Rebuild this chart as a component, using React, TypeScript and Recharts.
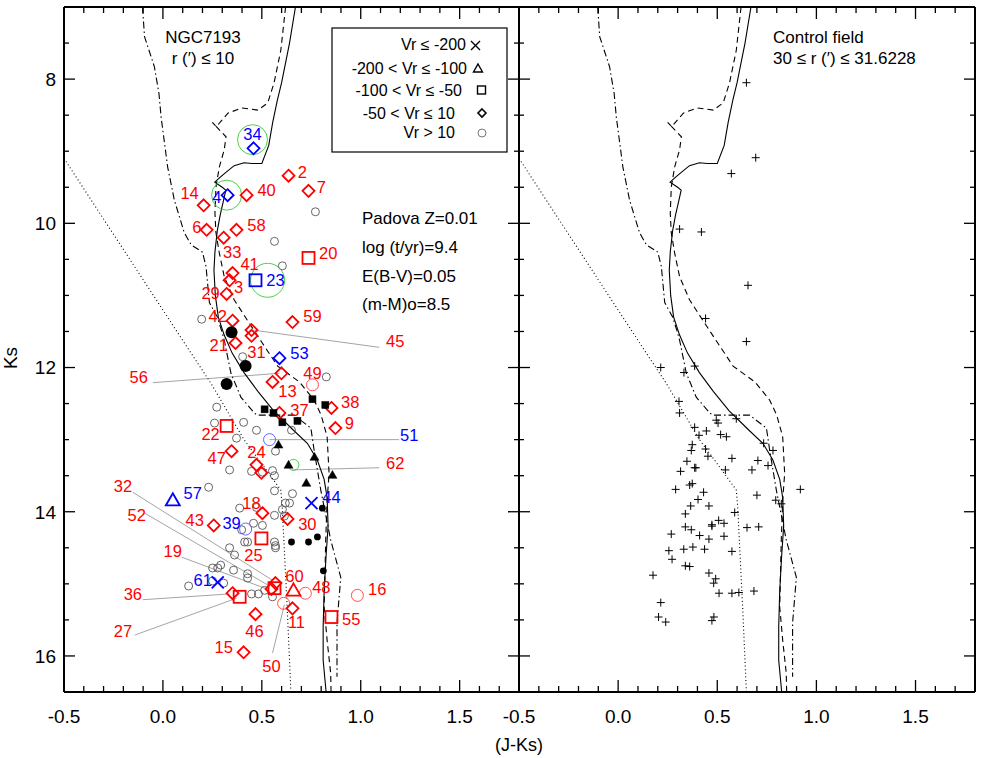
import React from 'react';
import { ScatterChart, Scatter, XAxis, YAxis, ReferenceLine } from 'recharts';

// axes
const X_TICKS = [-0.5, -0.4, -0.3, -0.2, -0.1, 0, 0.1, 0.2, 0.3, 0.4, 0.5, 0.6, 0.7, 0.8, 0.9, 1, 1.1, 1.2, 1.3, 1.4, 1.5, 1.6, 1.7];
const X_LABELS = [-0.5, 0, 0.5, 1, 1.5];
const Y_TICKS = [7.5, 8, 8.5, 9, 9.5, 10, 10.5, 11, 11.5, 12, 12.5, 13, 13.5, 14, 14.5, 15, 15.5, 16];
const Y_LABELS = [8, 10, 12, 14, 16];

// isochrones [J-Ks, Ks]
const ISO_SOLID = [
  [0.67, 7.0], [0.64, 7.5], [0.6, 8.05], [0.578, 8.3], [0.555, 8.6], [0.535, 8.92], [0.5, 9.17], [0.45, 9.17],
  [0.41, 9.16], [0.36, 9.2], [0.32, 9.29], [0.29, 9.36], [0.262, 9.43], [0.3, 9.5], [0.318, 9.54], [0.305, 9.7],
  [0.29, 9.88], [0.275, 10.1], [0.263, 10.4], [0.258, 10.65], [0.265, 11.0], [0.28, 11.3], [0.31, 11.55],
  [0.35, 11.8], [0.41, 12.07], [0.48, 12.33], [0.56, 12.6], [0.66, 12.87], [0.73, 13.05], [0.78, 13.28],
  [0.815, 13.55], [0.83, 13.8], [0.835, 14.2], [0.825, 14.6], [0.815, 15.1], [0.81, 15.6], [0.81, 16.06], [0.825, 16.5],
];
const ISO_DASHED = [
  [0.62, 7.0], [0.596, 7.6], [0.562, 8.05], [0.53, 8.33], [0.48, 8.43], [0.4, 8.4], [0.33, 8.47], [0.27, 8.66],
  [0.25, 8.6], [0.27, 8.66], [0.319, 8.8], [0.31, 8.98], [0.285, 9.22], [0.268, 9.5], [0.263, 9.86], [0.268, 10.13],
  [0.285, 10.41], [0.31, 10.74], [0.36, 11.06], [0.426, 11.34], [0.5, 11.65], [0.58, 11.98], [0.69, 12.2],
  [0.764, 12.45], [0.8, 12.66], [0.83, 12.96], [0.84, 13.47], [0.83, 13.84], [0.823, 14.39], [0.815, 15.32],
  [0.83, 15.78], [0.848, 16.24], [0.85, 16.5],
];
const ISO_DASHDOT = [
  [-0.103, 7.0], [-0.093, 7.41], [-0.043, 7.83], [-0.02, 8.2], [-0.009, 8.53], [0.024, 9.22], [0.058, 9.68],
  [0.108, 10.13], [0.143, 10.3], [0.2, 10.4], [0.218, 10.6], [0.235, 11.1], [0.275, 11.3], [0.3, 11.52],
  [0.31, 11.62], [0.344, 12.08], [0.394, 12.41], [0.462, 12.63], [0.477, 12.66], [0.663, 12.66], [0.748, 12.84],
  [0.764, 13.14], [0.798, 13.7], [0.848, 14.39], [0.899, 14.91], [0.88, 15.54], [0.88, 16.29],
];
const ISO_DOTTED = [
  [-0.5, 9.1], [0.123, 11.72], [0.243, 12.22], [0.41, 13.0], [0.512, 13.38], [0.596, 13.7], [0.603, 13.93],
  [0.628, 15.32], [0.647, 16.5],
];

// NGC7193 field
const GRAY_CIRCLES = [
  [0.771, 9.84], [0.564, 10.25], [0.604, 10.59], [0.196, 11.33], [0.403, 11.85], [0.826, 12.13], [0.272, 12.55],
  [0.261, 12.77], [0.408, 12.76], [0.473, 12.87], [0.372, 12.98], [0.569, 13.16], [0.65, 12.87], [0.337, 13.42],
  [0.448, 13.44], [0.503, 13.45], [0.554, 13.43], [0.564, 13.5], [0.231, 13.66], [0.564, 13.71], [0.655, 13.75],
  [0.619, 13.88], [0.64, 13.88], [0.604, 13.97], [0.388, 13.95], [0.473, 13.94], [0.564, 14.05], [0.614, 14.06],
  [0.458, 14.16], [0.503, 14.19], [0.398, 14.25], [0.428, 14.42], [0.413, 14.42], [0.564, 14.42], [0.569, 14.47],
  [0.569, 14.5], [0.337, 14.5], [0.362, 14.6], [0.292, 14.74], [0.251, 14.78], [0.277, 14.78], [0.357, 14.81],
  [0.428, 14.86], [0.428, 14.92], [0.13, 15.03], [0.251, 14.96], [0.307, 14.99], [0.448, 15.14], [0.483, 15.14],
  [0.514, 15.09], [0.554, 15.18],
];
const RED_DIAMONDS = [
  [0.635, 9.34], [0.736, 9.55], [0.206, 9.75], [0.423, 9.61], [0.221, 10.09], [0.372, 10.09], [0.307, 10.2],
  [0.352, 10.69], [0.337, 10.79], [0.322, 10.98], [0.352, 11.35], [0.448, 11.48], [0.448, 11.56], [0.367, 11.66],
  [0.599, 12.08], [0.554, 12.2], [0.852, 12.56], [0.872, 12.84], [0.589, 12.63], [0.347, 13.16], [0.473, 13.35],
  [0.498, 13.46], [0.503, 14.02], [0.63, 14.1], [0.257, 14.19], [0.569, 14.99], [0.549, 15.07], [0.352, 15.13],
  [0.655, 15.34], [0.468, 15.42], [0.408, 15.95], [0.655, 11.37],
];
const RED_SQUARES = [[0.736, 10.48], [0.322, 12.81], [0.498, 14.37], [0.564, 15.06], [0.388, 15.18], [0.852, 15.46]];
const RED_TRIANGLES = [[0.66, 15.09]];
const RED_RINGS = [[0.756, 12.24], [0.72, 15.13], [0.61, 15.27], [0.983, 15.16]];
const BLUE_DIAMONDS = [[0.458, 8.96], [0.327, 9.61], [0.589, 11.87]];
const BLUE_SQUARES = [[0.468, 10.79]];
const BLUE_TRIANGLES = [[0.05, 13.84]];
const BLUE_CROSSES = [[0.751, 13.88], [0.277, 14.98]];
const BLUE_RINGS = [[0.539, 13.0], [0.418, 14.24]];
const GREEN_BIG = [[0.453, 8.84], [0.322, 9.61]];
const GREEN_23 = [[0.529, 10.79]];
const GREEN_SMALL = [[0.66, 13.35]];
const BLACK_BIG = [[0.347, 11.51], [0.418, 11.98], [0.322, 12.23]];
const BLACK_SMALL = [[0.806, 13.95], [0.65, 14.42], [0.736, 14.42], [0.781, 14.35], [0.811, 14.82]];
const BLACK_SQUARES = [[0.514, 12.58], [0.559, 12.63], [0.604, 12.76], [0.68, 12.74], [0.756, 12.44], [0.821, 12.52]];
const BLACK_TRIANGLES = [[0.584, 13.07], [0.766, 13.24], [0.635, 13.35], [0.725, 13.6], [0.857, 13.49]];

const RED_LABELS: [number, number, string][] = [
  [0.705, 9.29, '2'], [0.801, 9.5, '7'], [0.135, 9.58, '14'], [0.524, 9.54, '40'], [0.171, 10.05, '6'],
  [0.473, 10.02, '58'], [0.35, 10.4, '33'], [0.438, 10.56, '41'], [0.383, 10.88, '3'], [0.241, 10.97, '29'],
  [0.277, 11.29, '42'], [0.282, 11.69, '21'], [0.473, 11.79, '31'], [-0.122, 12.13, '56'], [0.756, 12.08, '49'],
  [0.63, 12.33, '13'], [0.69, 12.59, '37'], [0.947, 12.48, '38'], [0.942, 12.77, '9'], [0.241, 12.92, '22'],
  [0.272, 13.26, '47'], [0.473, 13.17, '24'], [1.174, 13.32, '62'], [1.174, 11.63, '45'], [-0.202, 13.64, '32'],
  [0.448, 13.88, '18'], [0.73, 14.17, '30'], [-0.132, 14.05, '52'], [0.161, 14.12, '43'], [0.458, 14.6, '25'],
  [0.05, 14.55, '19'], [0.665, 14.89, '60'], [0.801, 15.04, '48'], [-0.152, 15.14, '36'], [1.083, 15.07, '16'],
  [0.675, 15.53, '11'], [0.952, 15.49, '55'], [0.463, 15.65, '46'], [-0.202, 15.65, '27'], [0.307, 15.88, '15'],
  [0.549, 16.14, '50'], [0.836, 10.41, '20'], [0.756, 11.29, '59'],
];
const BLUE_LABELS: [number, number, string][] = [
  [0.453, 8.76, '34'], [0.272, 9.64, '4'], [0.69, 11.8, '53'], [1.245, 12.94, '51'], [0.852, 13.8, '44'],
  [0.151, 13.74, '57'], [0.347, 14.16, '39'], [0.201, 14.95, '61'], [0.569, 10.79, '23'],
];
// label -> star leader lines [x1, y1, x2, y2]
const LEADERS = [
  [0.453, 11.48, 1.094, 11.72], [-0.051, 12.21, 0.589, 12.08], [0.539, 13.0, 1.194, 13.0],
  [0.655, 13.42, 1.094, 13.39], [-0.152, 13.73, 0.554, 14.95], [-0.092, 14.02, 0.539, 15.03],
  [0.095, 14.63, 0.524, 15.07], [-0.102, 15.22, 0.337, 15.14], [-0.142, 15.71, 0.372, 15.2],
  [0.554, 15.96, 0.614, 15.29],
];

// control field
const CONTROL = [
  [0.647, 8.05], [0.694, 9.09], [0.571, 9.31], [0.31, 10.08], [0.42, 10.12], [0.655, 10.86], [0.441, 11.32],
  [0.647, 11.64], [0.215, 12.0], [0.332, 12.07], [0.386, 11.98], [0.307, 12.47], [0.31, 12.63], [0.495, 12.73],
  [0.504, 12.77], [0.596, 12.71], [0.386, 12.83], [0.445, 12.88], [0.408, 12.94], [0.517, 12.93], [0.546, 12.96],
  [0.374, 13.07], [0.369, 13.15], [0.441, 13.13], [0.453, 13.23], [0.734, 13.05], [0.781, 13.15], [0.574, 13.26],
  [0.705, 13.29], [0.347, 13.3], [0.386, 13.39], [0.392, 13.39], [0.756, 13.36], [0.315, 13.44], [0.541, 13.42],
  [0.675, 13.42], [0.361, 13.63], [0.374, 13.61], [0.29, 13.69], [0.431, 13.73], [0.919, 13.69], [0.7, 13.77],
  [0.403, 13.83], [0.795, 13.84], [0.823, 13.89], [0.366, 13.92], [0.458, 13.92], [0.588, 14.01], [0.339, 14.03],
  [0.507, 14.12], [0.473, 14.18], [0.534, 14.16], [0.473, 14.2], [0.339, 14.21], [0.369, 14.25], [0.65, 14.22],
  [0.709, 14.21], [0.268, 14.31], [0.411, 14.33], [0.534, 14.34], [0.458, 14.38], [0.256, 14.54], [0.331, 14.52],
  [0.377, 14.49], [0.436, 14.52], [0.574, 14.55], [0.272, 14.66], [0.339, 14.75], [0.361, 14.76], [0.176, 14.88],
  [0.458, 14.85], [0.492, 14.93], [0.482, 14.99], [0.509, 15.13], [0.574, 15.13], [0.609, 15.12], [0.685, 15.1],
  [0.215, 15.26], [0.204, 15.46], [0.24, 15.53], [0.483, 15.46], [0.473, 15.51],
];

const FONT = '"Liberation Sans", Arial, Helvetica, sans-serif';
const RED = '#ff0000';
const BLUE = '#0000ff';
const AXIS = { stroke: '#000', strokeWidth: 2 };

const pts = (a: number[][]) => a.map(([x, y]) => ({ x, y }));
const labels = (a: [number, number, string][]) => a.map(([x, y, t]) => ({ x, y, t }));
const isMajor = (v: number, majors: number[]) => majors.some((m) => Math.abs(m - v) < 1e-6);

// ---- tick renderers (IDL style: ticks point into the frame) ----
function BottomTick({ x, y, payload }: any) {
  const major = isMajor(payload.value, X_LABELS);
  return (
    <g>
      <line x1={x} x2={x} y1={y} y2={y - (major ? 12 : 6)} stroke="#000" strokeWidth={1.3} />
      {major && (
        <text x={x} y={y + 31} textAnchor="middle" fontSize={19} fill="#000">
          {payload.value.toFixed(1)}
        </text>
      )}
    </g>
  );
}
function TopTick({ x, y, payload }: any) {
  const major = isMajor(payload.value, X_LABELS);
  return <line x1={x} x2={x} y1={y} y2={y + (major ? 12 : 6)} stroke="#000" strokeWidth={1.3} />;
}
function LeftTickLabeled({ x, y, payload }: any) {
  const major = isMajor(payload.value, Y_LABELS);
  return (
    <g>
      <line x1={x} x2={x + (major ? 11 : 5)} y1={y} y2={y} stroke="#000" strokeWidth={1.3} />
      {major && (
        <text x={x - 8} y={y} dy="0.36em" textAnchor="end" fontSize={19} fill="#000">
          {payload.value}
        </text>
      )}
    </g>
  );
}
function LeftTick({ x, y, payload }: any) {
  const major = isMajor(payload.value, Y_LABELS);
  return <line x1={x} x2={x + (major ? 11 : 5)} y1={y} y2={y} stroke="#000" strokeWidth={1.3} />;
}
function RightTick({ x, y, payload }: any) {
  const major = isMajor(payload.value, Y_LABELS);
  return <line x1={x} x2={x - (major ? 11 : 5)} y1={y} y2={y} stroke="#000" strokeWidth={1.3} />;
}

// ---- marker shapes ----
const blank = () => <g />;
const diamond = (c: string, r: number, w: number) => ({ cx, cy }: any) => (
  <path d={`M${cx} ${cy - r}L${cx + r} ${cy}L${cx} ${cy + r}L${cx - r} ${cy}Z`} fill="none" stroke={c} strokeWidth={w} />
);
const square = (c: string, h: number, w: number, filled = false) => ({ cx, cy }: any) => (
  <rect x={cx - h} y={cy - h} width={2 * h} height={2 * h} fill={filled ? c : 'none'} stroke={c} strokeWidth={w} />
);
const triangle = (c: string, r: number, w: number, filled = false) => ({ cx, cy }: any) => (
  <path d={`M${cx} ${cy - r}L${cx + r} ${cy + r * 0.75}L${cx - r} ${cy + r * 0.75}Z`} fill={filled ? c : 'none'} stroke={c} strokeWidth={w} />
);
const ring = (c: string, r: number, w: number) => ({ cx, cy }: any) => (
  <circle cx={cx} cy={cy} r={r} fill="none" stroke={c} strokeWidth={w} />
);
const dot = (c: string, r: number) => ({ cx, cy }: any) => <circle cx={cx} cy={cy} r={r} fill={c} />;
const cross = (c: string, r: number, w: number) => ({ cx, cy }: any) => (
  <path d={`M${cx - r} ${cy - r}L${cx + r} ${cy + r}M${cx + r} ${cy - r}L${cx - r} ${cy + r}`} stroke={c} strokeWidth={w} />
);
const plus = (c: string, r: number, w: number) => ({ cx, cy }: any) => (
  <path d={`M${cx - r} ${cy}L${cx + r} ${cy}M${cx} ${cy - r}L${cx} ${cy + r}`} stroke={c} strokeWidth={w} />
);
const tag = (c: string) => ({ cx, cy, payload }: any) => (
  <text x={cx} y={cy} dy="0.36em" textAnchor="middle" fontSize={16.5} fill={c}>
    {payload.t}
  </text>
);

function curves(prefix: string) {
  const lines = [
    { d: ISO_DOTTED, dash: '1 2.6' },
    { d: ISO_DASHDOT, dash: '7 3 1.5 3' },
    { d: ISO_DASHED, dash: '6 4' },
    { d: ISO_SOLID, dash: undefined },
  ];
  return lines.map((l, i) => (
    <Scatter
      key={`${prefix}-c${i}`}
      data={pts(l.d)}
      line={{ stroke: '#000', strokeWidth: 1.1, strokeDasharray: l.dash }}
      shape={blank}
      fill="none"
      isAnimationActive={false}
    />
  ));
}

// axis "areas" are 1px thick so Recharts still draws them (0 hides the axis)
function Panel({ left, width, ml, mr, yLabels, children }: any) {
  return (
    <div style={{ position: 'absolute', left, top: 0 }}>
      <ScatterChart width={width} height={758} margin={{ top: 6, right: mr, bottom: 65, left: ml }}>
        <XAxis type="number" dataKey="x" domain={[-0.5, 1.8]} ticks={X_TICKS} interval={0} height={1}
          tickSize={0} tickMargin={0} tick={BottomTick} axisLine={AXIS} allowDataOverflow />
        <XAxis xAxisId="top" orientation="top" type="number" dataKey="x" domain={[-0.5, 1.8]} ticks={X_TICKS}
          interval={0} height={1} tickSize={0} tickMargin={0} tick={TopTick} axisLine={AXIS} allowDataOverflow />
        <YAxis type="number" dataKey="y" reversed domain={[7, 16.5]} ticks={Y_TICKS} interval={0} width={1}
          tickSize={0} tickMargin={0} tick={yLabels ? LeftTickLabeled : LeftTick} axisLine={AXIS} allowDataOverflow />
        <YAxis yAxisId="right" orientation="right" type="number" dataKey="y" reversed domain={[7, 16.5]}
          ticks={Y_TICKS} interval={0} width={1} tickSize={0} tickMargin={0} tick={RightTick} axisLine={AXIS} allowDataOverflow />
        {children}
      </ScatterChart>
    </div>
  );
}

export default function App() {
  return (
    <div style={{ position: 'absolute', left: 0, top: 0, width: 981, height: 758, background: '#fff', fontFamily: FONT }}>
      <Panel left={0} width={520} ml={63} mr={0} yLabels>
        {curves('l')}
        {LEADERS.map((s, i) => (
          <ReferenceLine key={`ld${i}`} segment={[{ x: s[0], y: s[1] }, { x: s[2], y: s[3] }]}
            stroke="#9a9a9a" strokeWidth={0.9} ifOverflow="visible" />
        ))}
        <Scatter data={pts(GRAY_CIRCLES)} shape={ring('#555', 4, 0.9)} isAnimationActive={false} />
        <Scatter data={pts(GREEN_BIG)} shape={ring('#33cc33', 15, 0.9)} isAnimationActive={false} />
        <Scatter data={pts(GREEN_23)} shape={ring('#33cc33', 17, 0.9)} isAnimationActive={false} />
        <Scatter data={pts(GREEN_SMALL)} shape={ring('#33cc33', 5.5, 0.9)} isAnimationActive={false} />
        <Scatter data={pts(RED_RINGS)} shape={ring('#ff4040', 6, 0.9)} isAnimationActive={false} />
        <Scatter data={pts(BLUE_RINGS)} shape={ring('#5555ff', 6, 0.9)} isAnimationActive={false} />
        <Scatter data={pts(RED_DIAMONDS)} shape={diamond(RED, 6, 1.8)} isAnimationActive={false} />
        <Scatter data={pts(RED_SQUARES)} shape={square(RED, 6, 1.8)} isAnimationActive={false} />
        <Scatter data={pts(RED_TRIANGLES)} shape={triangle(RED, 7, 1.8)} isAnimationActive={false} />
        <Scatter data={pts(BLUE_DIAMONDS)} shape={diamond(BLUE, 6, 1.8)} isAnimationActive={false} />
        <Scatter data={pts(BLUE_SQUARES)} shape={square(BLUE, 6, 1.8)} isAnimationActive={false} />
        <Scatter data={pts(BLUE_TRIANGLES)} shape={triangle(BLUE, 7, 1.8)} isAnimationActive={false} />
        <Scatter data={pts(BLUE_CROSSES)} shape={cross(BLUE, 6, 1.8)} isAnimationActive={false} />
        <Scatter data={pts(BLACK_BIG)} shape={dot('#000', 6)} isAnimationActive={false} />
        <Scatter data={pts(BLACK_SMALL)} shape={dot('#000', 3.4)} isAnimationActive={false} />
        <Scatter data={pts(BLACK_SQUARES)} shape={square('#000', 3.5, 0.5, true)} isAnimationActive={false} />
        <Scatter data={pts(BLACK_TRIANGLES)} shape={triangle('#000', 4.5, 0.5, true)} isAnimationActive={false} />
        <Scatter data={labels(RED_LABELS)} shape={tag(RED)} isAnimationActive={false} />
        <Scatter data={labels(BLUE_LABELS)} shape={tag(BLUE)} isAnimationActive={false} />
      </Panel>

      <Panel left={469} width={512} ml={49} mr={5} yLabels={false}>
        {curves('r')}
        <Scatter data={pts(CONTROL)} shape={plus('#000', 4, 1)} isAnimationActive={false} />
      </Panel>

      {/* annotations */}
      <svg width={981} height={758} style={{ position: 'absolute', left: 0, top: 0, pointerEvents: 'none' }}>
        <g fontSize={17} fill="#000">
          <text x={203} y={43} textAnchor="middle">NGC7193</text>
          <text x={203} y={64} textAnchor="middle">r (′) ≤ 10</text>
          <text x={362} y={224}>Padova Z=0.01</text>
          <text x={362} y={253}>log (t/yr)=9.4</text>
          <text x={362} y={282}>E(B-V)=0.05</text>
          <text x={362} y={310}>(m-M)o=8.5</text>
          <text x={773} y={43}>Control field</text>
          <text x={773} y={64}>30 ≤ r (′) ≤ 31.6228</text>
        </g>
        <rect x={332} y={28} width={175} height={124} fill="none" stroke="#000" strokeWidth={1.2} />
        <g fontSize={16} fill="#000" textAnchor="end">
          <text x={466} y={50}>Vr ≤ -200</text>
          <text x={467} y={74}>-200 &lt; Vr ≤ -100</text>
          <text x={462} y={96}>-100 &lt; Vr ≤ -50</text>
          <text x={455} y={119}>-50 &lt; Vr ≤ 10</text>
          <text x={455} y={138}>Vr &gt; 10</text>
        </g>
        <path d="M471 41L480 50M480 41L471 50" stroke="#000" strokeWidth={1.4} />
        <path d="M478 64L482.5 72L473.5 72Z" fill="none" stroke="#000" strokeWidth={1.4} />
        <rect x={477.5} y={86} width={8} height={8} fill="none" stroke="#000" strokeWidth={1.4} />
        <path d="M482 109L486 113L482 117L478 113Z" fill="none" stroke="#000" strokeWidth={1.6} />
        <circle cx={482} cy={133} r={4} fill="none" stroke="#666" strokeWidth={0.9} />
        <text x={0} y={0} fontSize={19} textAnchor="middle" transform="translate(17 358) rotate(-90)">Ks</text>
        <text x={519} y={751} fontSize={18} textAnchor="middle">(J-Ks)</text>
      </svg>
    </div>
  );
}
